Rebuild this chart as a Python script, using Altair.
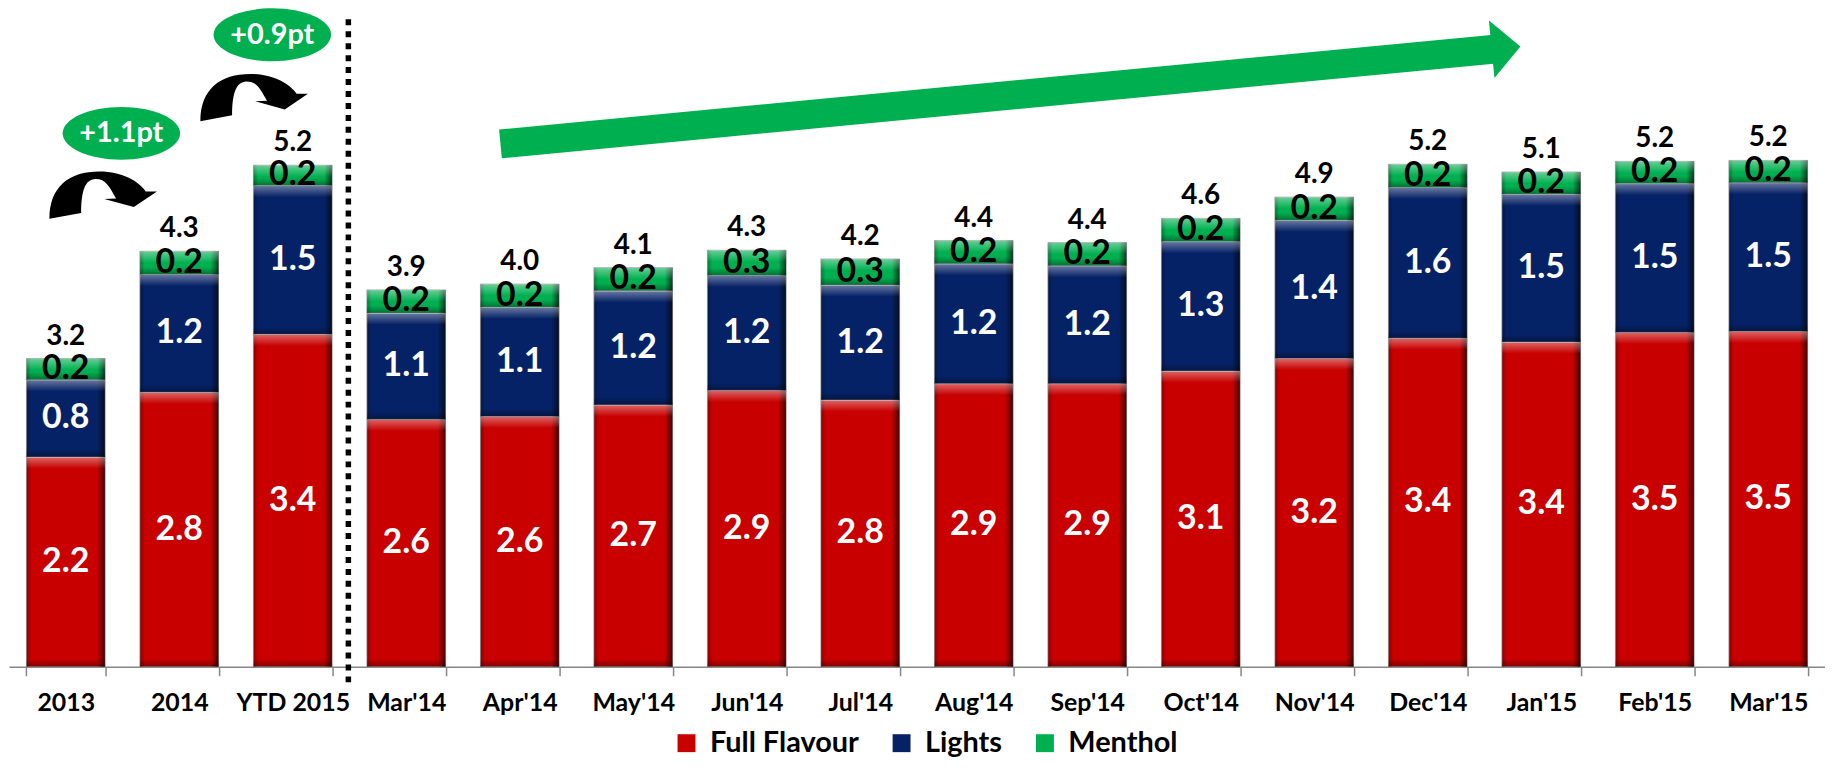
import altair as alt
import pandas as pd

# ---------------- data ----------------
categories = ["2013", "2014", "YTD 2015", "Mar'14", "Apr'14", "May'14", "Jun'14",
              "Jul'14", "Aug'14", "Sep'14", "Oct'14", "Nov'14", "Dec'14",
              "Jan'15", "Feb'15", "Mar'15"]
full_flavour = [2.17, 2.84, 3.44, 2.56, 2.59, 2.71, 2.86, 2.76, 2.93, 2.93, 3.06,
                3.19, 3.40, 3.36, 3.46, 3.47]
lights = [0.80, 1.22, 1.54, 1.10, 1.13, 1.18, 1.19, 1.19, 1.24, 1.22, 1.34,
          1.43, 1.56, 1.53, 1.54, 1.54]
menthol = [0.22, 0.24, 0.21, 0.24, 0.24, 0.24, 0.26, 0.27, 0.24, 0.24, 0.24,
           0.24, 0.24, 0.23, 0.23, 0.23]
series = ["Full Flavour", "Lights", "Menthol"]
colors = ["#C80000", "#062266", "#00B050"]

# annotation anchors (category-index units on x, value units on y)
note_text = ["+1.1pt", "+0.9pt"]
note_x = [0.99, 2.32]
note_y = [5.52, 6.54]
curve_x = [0.83, 2.16]
curve_y = [4.88, 5.89]
trend_x = [4.33, 13.07]
trend_y = [5.41, 6.39]
head_x = [13.19]
head_y = [6.405]
sep_x = [2.99]
sep_y0 = [6.70]
sep_y1 = [-0.16]

FONT = "Lato"
Y_MAX = 6.8
PLOT_W, PLOT_H = 1824, 660

rows = []
for i, c in enumerate(categories):
    for k, (s, vals) in enumerate(zip(series, [full_flavour, lights, menthol])):
        rows.append({"cat": c, "series": s, "value": vals[i], "ord": k})
df = pd.DataFrame(rows)

x_enc = alt.X("cat:N", sort=categories,
              scale=alt.Scale(paddingInner=0.307, paddingOuter=0.1535),
              axis=alt.Axis(title=None, labelAngle=0, tickBand="extent"))
y_scale = alt.Scale(domain=[0, Y_MAX], nice=False, zero=True)

base = alt.Chart(df)

bars = base.mark_bar(stroke="#a0a0a0", strokeWidth=0.8).encode(
    x=x_enc,
    y=alt.Y("value:Q", stack="zero", scale=y_scale, axis=None),
    color=alt.Color("series:N", sort=series,
                    scale=alt.Scale(domain=series, range=colors),
                    legend=alt.Legend(title=None, orient="none", direction="horizontal",
                                      legendX=666, legendY=722,
                                      symbolType="square", symbolSize=324,
                                      symbolStrokeWidth=0, labelFont=FONT,
                                      labelFontSize=29, labelFontWeight="bold",
                                      labelColor="black", columnPadding=28,
                                      labelOffset=9, padding=0)),
    order=alt.Order("ord:Q", sort="ascending"),
)

seg = base.transform_stack(
    stack="value", groupby=["cat"], as_=["v0", "v1"],
    sort=[alt.SortField("ord", order="ascending")]
).transform_calculate(
    mid="(datum.v0 + datum.v1) / 2",
    hi="datum.v1 - 0.12",
    lo="datum.v0 + 0.08",
)

side_shade = seg.mark_bar(
    strokeWidth=0,
    fill=alt.LinearGradient(gradient="linear", x1=0, y1=0, x2=1, y2=0, stops=[
        alt.GradientStop(offset=0, color="rgba(0,0,0,0.30)"),
        alt.GradientStop(offset=0.06, color="rgba(0,0,0,0)"),
        alt.GradientStop(offset=0.90, color="rgba(0,0,0,0)"),
        alt.GradientStop(offset=1, color="rgba(0,0,0,0.65)"),
    ])
).encode(x=x_enc, y=alt.Y("v1:Q", scale=y_scale, axis=None), y2="v0:Q")

top_bevel = seg.mark_bar(
    strokeWidth=0,
    fill=alt.LinearGradient(gradient="linear", x1=0, y1=0, x2=0, y2=1, stops=[
        alt.GradientStop(offset=0, color="rgba(255,255,255,0.40)"),
        alt.GradientStop(offset=1, color="rgba(255,255,255,0)"),
    ])
).encode(x=x_enc, y=alt.Y("v1:Q", scale=y_scale, axis=None), y2="hi:Q")

bottom_bevel = seg.mark_bar(
    strokeWidth=0,
    fill=alt.LinearGradient(gradient="linear", x1=0, y1=0, x2=0, y2=1, stops=[
        alt.GradientStop(offset=0, color="rgba(0,0,0,0)"),
        alt.GradientStop(offset=1, color="rgba(0,0,0,0.35)"),
    ])
).encode(x=x_enc, y=alt.Y("lo:Q", scale=y_scale, axis=None), y2="v0:Q")

seg_white = seg.transform_filter("datum.series != 'Menthol'").mark_text(
    font=FONT, fontSize=34, fontWeight="bold", color="white", baseline="middle"
).encode(x=x_enc, y=alt.Y("mid:Q", scale=y_scale, axis=None),
         text=alt.Text("value:Q", format=".1f"))

seg_black = seg.transform_filter("datum.series == 'Menthol'").mark_text(
    font=FONT, fontSize=34, fontWeight="bold", color="black", baseline="middle"
).encode(x=x_enc, y=alt.Y("mid:Q", scale=y_scale, axis=None),
         text=alt.Text("value:Q", format=".1f"))

totals = base.transform_aggregate(total="sum(value)", groupby=["cat"]).mark_text(
    font=FONT, fontSize=28, fontWeight="bold", color="black",
    baseline="alphabetic", dy=-14
).encode(x=x_enc, y=alt.Y("total:Q", scale=y_scale, axis=None),
         text=alt.Text("total:Q", format=".1f"))

inner = alt.layer(bars, side_shade, top_bevel, bottom_bevel, seg_white, seg_black, totals)

# ---------------- overlays ----------------
u_scale = alt.Scale(domain=[0, 16], nice=False, zero=False)


def ux(field="u"):
    return alt.X(f"{field}:Q", scale=u_scale, axis=None)


def vy(field="v"):
    return alt.Y(f"{field}:Q", scale=y_scale, axis=None)


sep_df = pd.DataFrame({"u": sep_x, "v0": sep_y0, "v1": sep_y1})
sep = alt.Chart(sep_df).mark_rule(color="black", strokeWidth=5.5,
                                  strokeDash=[6, 6], strokeCap="butt").encode(
    x=ux(), y=vy("v0"), y2="v1:Q")

trend_df = pd.DataFrame({"u": trend_x, "v": trend_y})
shaft = alt.Chart(trend_df).mark_line(color="#00B050", strokeWidth=29,
                                      strokeCap="butt").encode(x=ux(), y=vy())

head_df = pd.DataFrame({"u": head_x, "v": head_y})
head = alt.Chart(head_df).mark_point(
    shape="M-0.5,-1L0.5,0L-0.5,1Z", size=3364, filled=True, opacity=1,
    color="#00B050", angle=354.5, strokeWidth=0).encode(x=ux(), y=vy())

CURVE = ("M-1,0.44 C-1,-0.16 -0.63,-0.44 -0.07,-0.44 C0.36,-0.44 0.67,-0.25 0.79,-0.07 "
         "L1,-0.07 L0.57,0.22 L0.02,0.07 L0.24,0.06 C0.11,-0.16 0.05,-0.3 -0.14,-0.3 "
         "C-0.35,-0.3 -0.41,-0.04 -0.41,0.33 Z")
curve_df = pd.DataFrame({"u": curve_x, "v": curve_y})
curves = alt.Chart(curve_df).mark_point(
    shape=CURVE, size=11664, filled=True, opacity=1, color="black",
    strokeWidth=0).encode(x=ux(), y=vy())

ELLIPSE = ("M-1,0 C-1,-0.2485 -0.5523,-0.45 0,-0.45 C0.5523,-0.45 1,-0.2485 1,0 "
           "C1,0.2485 0.5523,0.45 0,0.45 C-0.5523,0.45 -1,0.2485 -1,0 Z")
note_df = pd.DataFrame({"u": note_x, "v": note_y, "t": note_text})
ellipses = alt.Chart(note_df).mark_point(
    shape=ELLIPSE, size=13924, filled=True, opacity=1, color="#00B050",
    strokeWidth=0).encode(x=ux(), y=vy())
note_txt = alt.Chart(note_df).mark_text(
    font=FONT, fontSize=29, fontWeight="bold", color="white", baseline="middle"
).encode(x=ux(), y=vy(), text="t:N")

chart = alt.layer(inner, sep, shaft, head, curves, ellipses, note_txt).resolve_scale(
    x="independent"
).properties(
    width=PLOT_W, height=PLOT_H,
    autosize=alt.AutoSizeParams(type="none"),
    padding={"left": 1, "right": 0, "top": 0, "bottom": 97},
).configure_view(stroke=None).configure_axis(
    domainColor="#868686", domainWidth=1.5, tickColor="#868686", tickWidth=1.5,
    tickSize=9, labelFont=FONT, labelFontSize=25, labelFontWeight="bold",
    labelColor="black", labelPadding=15, grid=False
)

chart.save("out.html", embed_options={"renderer": "svg", "actions": False})
